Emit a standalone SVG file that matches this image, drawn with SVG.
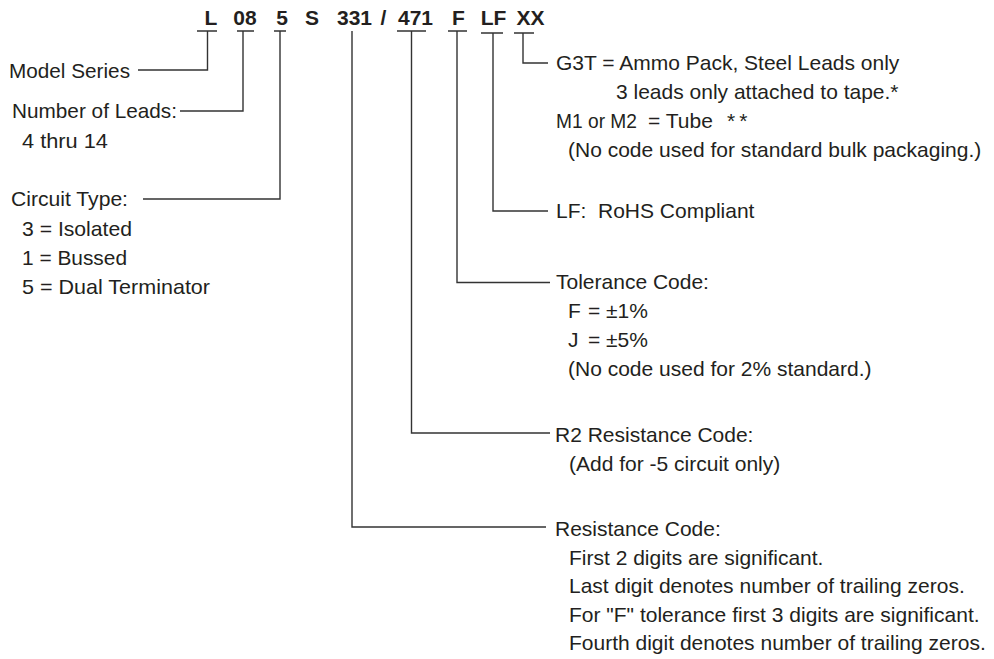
<svg xmlns="http://www.w3.org/2000/svg" width="994" height="659" viewBox="0 0 994 659">
<style>
.t{font-family:"Liberation Sans",Arial,sans-serif;font-size:21px;fill:#231f20}
.h{font-family:"Liberation Sans",Arial,sans-serif;font-size:21px;font-weight:bold;fill:#231f20;text-anchor:middle}
.c{fill:none;stroke:#333;stroke-width:1.4}
</style>
<rect width="994" height="659" fill="#fff"/>
<g id="code">
<text class="h" x="211" y="25">L</text>
<text class="h" x="245" y="25">08</text>
<text class="h" x="282" y="25">5</text>
<text class="h" x="312" y="25">S</text>
<text class="h" x="354.5" y="25">331</text>
<text class="h" x="383.5" y="25">/</text>
<text class="h" x="415.5" y="25">471</text>
<text class="h" x="458.5" y="25">F</text>
<text class="h" x="493.5" y="25">LF</text>
<text class="h" x="530.5" y="25">XX</text>
</g>
<g id="connectors">
<path class="c" d="M197 31H217M207.5 31V70H138"/>
<path class="c" d="M237 31H254M243 31V111H180"/>
<path class="c" d="M274 31H286M280 31V199H143"/>
<path class="c" d="M352 31V527H546"/>
<path class="c" d="M397 31H426M411.5 31V433H550"/>
<path class="c" d="M448 31H467M457 31V282.5H550"/>
<path class="c" d="M481 33H503M493 33V211H548"/>
<path class="c" d="M514 33H534M523 33V63H548"/>
</g>
<g id="model-series"><text class="t" x="9" y="78" textLength="121" lengthAdjust="spacingAndGlyphs">Model Series</text></g>
<g id="leads">
<text class="t" x="12" y="118" textLength="165" lengthAdjust="spacingAndGlyphs">Number of Leads:</text>
<text class="t" x="22" y="148" textLength="86" lengthAdjust="spacingAndGlyphs">4 thru 14</text>
</g>
<g id="circuit">
<text class="t" x="11" y="206" textLength="117" lengthAdjust="spacingAndGlyphs">Circuit Type:</text>
<text class="t" x="22" y="236" textLength="110" lengthAdjust="spacingAndGlyphs">3 = Isolated</text>
<text class="t" x="22" y="265" textLength="105" lengthAdjust="spacingAndGlyphs">1 = Bussed</text>
<text class="t" x="22" y="294" textLength="188" lengthAdjust="spacingAndGlyphs">5 = Dual Terminator</text>
</g>
<g id="packaging">
<text class="t" x="556" y="70">G3T = Ammo Pack, Steel Leads only</text>
<text class="t" x="616" y="99">3 leads only attached to tape.*</text>
<text class="t" x="556" y="128"><tspan textLength="81" lengthAdjust="spacingAndGlyphs">M1 or M2</tspan><tspan x="648">= Tube</tspan><tspan x="727" letter-spacing="4">**</tspan></text>
<text class="t" x="568" y="157">(No code used for standard bulk packaging.)</text>
</g>
<g id="rohs"><text class="t" x="556" y="218" xml:space="preserve">LF:  RoHS Compliant</text></g>
<g id="tolerance">
<text class="t" x="556" y="289">Tolerance Code:</text>
<text class="t" x="568" y="318">F<tspan x="588">= ±1%</tspan></text>
<text class="t" x="568" y="347">J<tspan x="588">= ±5%</tspan></text>
<text class="t" x="568" y="376">(No code used for 2% standard.)</text>
</g>
<g id="r2">
<text class="t" x="555" y="441.5">R2 Resistance Code:</text>
<text class="t" x="569" y="470.5">(Add for -5 circuit only)</text>
</g>
<g id="resistance">
<text class="t" x="555" y="536">Resistance Code:</text>
<text class="t" x="569" y="564.5">First 2 digits are significant.</text>
<text class="t" x="569" y="593">Last digit denotes number of trailing zeros.</text>
<text class="t" x="569" y="621.5">For "F" tolerance first 3 digits are significant.</text>
<text class="t" x="569" y="650">Fourth digit denotes number of trailing zeros.</text>
</g>
</svg>
